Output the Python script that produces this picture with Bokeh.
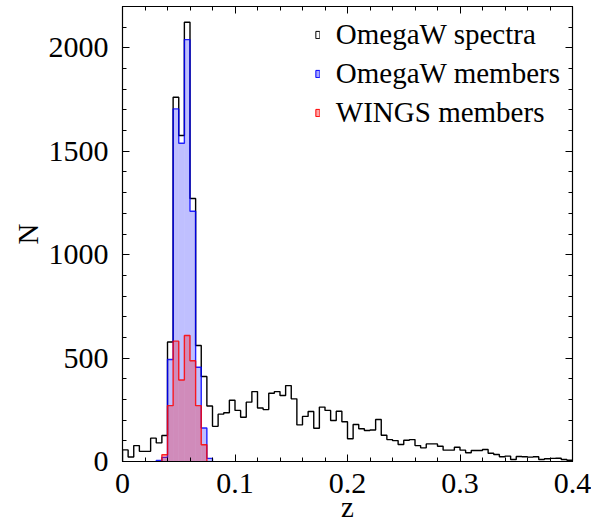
import numpy as np
from bokeh.plotting import figure
from bokeh.models import Range1d, LinearAxis, Legend, LegendItem, FixedTicker
from bokeh.embed import file_html
from bokeh.resources import INLINE

# ---- data ----
bin_width = 0.005
z_start = 0.0

spectra_counts = [56, 22, 77, 49, 49, 113, 90, 126, 578, 1761,
                  1576, 2124, 1272, 561, 411, 268, 170, 229, 236, 296,
                  247, 214, 287, 338, 259, 251, 330, 338, 319, 367,
                  303, 177, 218, 242, 161, 263, 247, 198, 243, 192,
                  110, 179, 158, 150, 152, 203, 127, 106, 101, 82,
                  103, 106, 77, 66, 85, 85, 74, 55, 55, 69,
                  55, 42, 53, 53, 58, 40, 34, 23, 26, 10,
                  24, 23, 21, 23, 10, 13, 15, 16, 10, 6]
spectra_first_bin = 0

omegaw_members = [5, 20, 493, 1705, 1539, 2040, 1210, 456, 162, 15]
omegaw_first_bin = 6

wings_members = [33, 270, 582, 394, 609, 487, 270, 81]
wings_first_bin = 7

series_labels = ["OmegaW spectra", "OmegaW members", "WINGS members"]

x_range = (0.0, 0.4)
y_range = (0, 2200)
x_ticks = [0, 0.1, 0.2, 0.3, 0.4]
x_minor = [0, 0.02, 0.04, 0.06, 0.08, 0.1, 0.12, 0.14, 0.16, 0.18, 0.2,
           0.22, 0.24, 0.26, 0.28, 0.3, 0.32, 0.34, 0.36, 0.38, 0.4]
y_ticks = [0, 500, 1000, 1500, 2000]
y_minor = list(range(0, 2201, 100))
x_title = "z"
y_title = "N"

FONT = "Liberation Serif"


def bins(counts, first):
    left = z_start + (first + np.arange(len(counts))) * bin_width
    return left, left + bin_width, np.asarray(counts, float)


def outline(counts, first):
    left, right, c = bins(counts, first)
    xs = [left[0]]
    ys = [0.0]
    for l, r, v in zip(left, right, c):
        xs += [l, r]
        ys += [v, v]
    xs.append(right[-1])
    ys.append(0.0)
    return xs, ys


p = figure(width=591, height=525, output_backend="svg", toolbar_location=None,
           x_range=Range1d(*x_range), y_range=Range1d(*y_range),
           min_border_left=122, min_border_right=19, min_border_top=6,
           min_border_bottom=64)
p.xgrid.visible = False
p.ygrid.visible = False
p.outline_line_color = "black"
p.outline_line_width = 1.2
p.background_fill_color = "white"
p.border_fill_color = "white"

# black spectra outline
sx, sy = outline(spectra_counts, spectra_first_bin)
p.line(sx, sy, line_color="black", line_width=1.4)

# blue members
l, r, c = bins(omegaw_members, omegaw_first_bin)
p.quad(left=l, right=r, bottom=0, top=c, fill_color="blue", fill_alpha=0.25,
       line_color=None)
bx, by = outline(omegaw_members, omegaw_first_bin)
p.line(bx, by, line_color="blue", line_width=1.4, line_alpha=0.85)

# red members
l, r, c = bins(wings_members, wings_first_bin)
p.quad(left=l, right=r, bottom=0, top=c, fill_color="red", fill_alpha=0.27,
       line_color=None)
rx, ry = outline(wings_members, wings_first_bin)
p.line(rx, ry, line_color="red", line_width=1.4, line_alpha=0.85)

# legend glyph renderers (degenerate, invisible in the plot area)
zero = dict(left=[z_start], right=[z_start], top=[0], bottom=[0])
g1 = p.quad(**zero, fill_alpha=0, line_color="black", line_width=1)
g2 = p.quad(**zero, fill_color="blue", fill_alpha=0.35, line_color="blue", line_width=1)
g3 = p.quad(**zero, fill_color="red", fill_alpha=0.35, line_color="red", line_width=1)
legend = Legend(items=[LegendItem(label=series_labels[0], renderers=[g1]),
                       LegendItem(label=series_labels[1], renderers=[g2]),
                       LegendItem(label=series_labels[2], renderers=[g3])],
                location="top_right")
legend.border_line_color = None
legend.background_fill_alpha = 0
legend.label_text_font = FONT
legend.label_text_font_size = "29px"
legend.label_text_color = "black"
legend.glyph_width = 5
legend.glyph_height = 9
legend.label_standoff = 16
legend.spacing = 6
legend.margin = 12
legend.padding = 11
p.add_layout(legend)


def style_axis(ax, labels=True):
    ax.axis_line_color = "black"
    ax.major_tick_in = 7
    ax.major_tick_out = 0
    ax.minor_tick_in = 4
    ax.minor_tick_out = 0
    ax.major_tick_line_color = "black"
    ax.minor_tick_line_color = "black"
    if labels:
        ax.major_label_text_font = FONT
        ax.major_label_text_font_size = "30px"
        ax.major_label_text_color = "black"
        ax.axis_label_text_font = FONT
        ax.axis_label_text_font_size = "29px"
        ax.axis_label_text_font_style = "normal"
        ax.axis_label_text_color = "black"
    else:
        ax.major_label_text_font_size = "1px"
        ax.major_label_text_color = None
        ax.major_label_standoff = 0


xa = p.xaxis[0]
xa.ticker = FixedTicker(ticks=x_ticks, minor_ticks=x_minor)
xa.major_label_overrides = {0: "0"}
xa.axis_label = x_title
xa.major_label_standoff = 12
style_axis(xa)
xa.axis_label_standoff = -5

ya = p.yaxis[0]
ya.ticker = FixedTicker(ticks=y_ticks, minor_ticks=y_minor)
ya.axis_label = y_title
ya.major_label_standoff = 14
ya.axis_label_standoff = 2
style_axis(ya)

top_ax = LinearAxis(ticker=FixedTicker(ticks=x_ticks, minor_ticks=x_minor))
style_axis(top_ax, labels=False)
p.add_layout(top_ax, "above")
right_ax = LinearAxis(ticker=FixedTicker(ticks=y_ticks, minor_ticks=y_minor))
style_axis(right_ax, labels=False)
p.add_layout(right_ax, "right")

open("out.html", "w").write(file_html(p, INLINE))
